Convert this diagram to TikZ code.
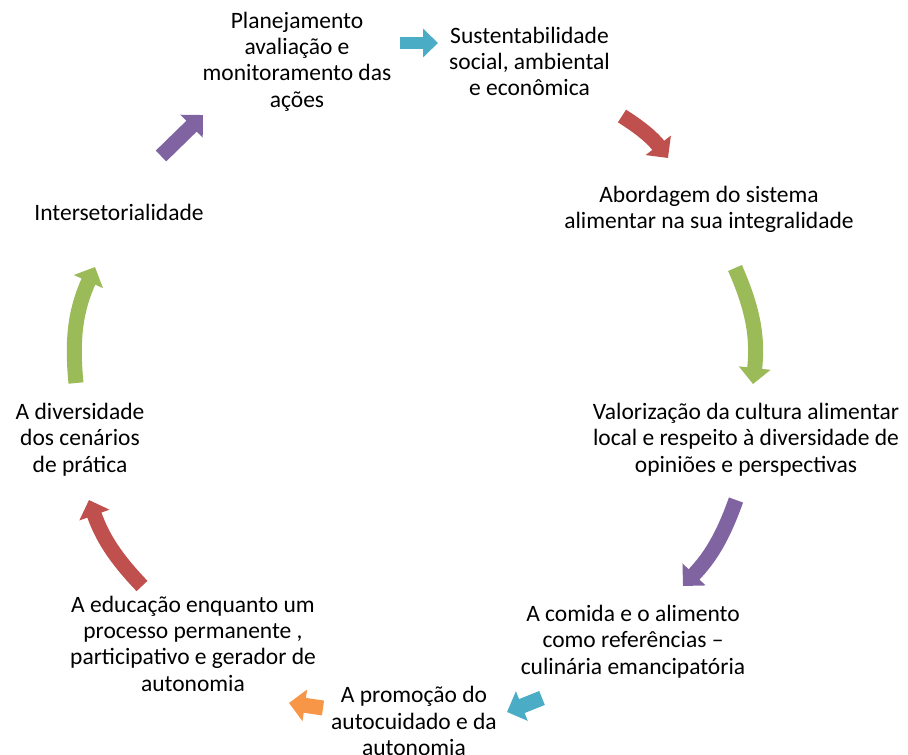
\documentclass[tikz,border=0pt]{standalone}
\usepackage{fontspec}
\setmainfont{Carlito}
\usetikzlibrary{arrows.meta}
\definecolor{acyan}{HTML}{4BACC6}
\definecolor{ared}{HTML}{C0504D}
\definecolor{agreen}{HTML}{9BBB59}
\definecolor{apurple}{HTML}{8064A2}
\definecolor{aorange}{HTML}{F79646}
\begin{document}
\begin{tikzpicture}[x=1pt,y=1pt,
  lbl/.style={align=center, inner sep=0pt, text=black, font=\fontsize{23.5}{26.3}\selectfont},
  barrow/.style={line width=15pt, -{Triangle[width=31pt,length=16pt]}},
  sarrow/.style={line width=12pt, -{Triangle[width=28pt,length=15pt]}},
]
\useasboundingbox[fill=white] (0,0) rectangle (908,-755);

% text nodes
\node[lbl] (plan) at (297,-61.5) {Planejamento\\avaliação e\\monitoramento das\\ações};
\node[lbl] (sust) at (529.5,-61.5) {Sustentabilidade\\social, ambiental\\e econômica};
\node[lbl] (abor) at (709,-209.5) {Abordagem do sistema\\alimentar na sua integralidade};
\node[lbl] (valo) at (746,-439.5) {Valorização da cultura alimentar\\local e respeito à diversidade de\\opiniões e perspectivas};
\node[lbl] (comi) at (633,-641.5) {A comida e o alimento\\como referências –\\culinária emancipatória};
\node[lbl] (prom) at (414,-721) {A promoção do\\autocuidado e da\\autonomia};
\node[lbl] (educ) at (193,-643.5) {A educação enquanto um\\processo permanente ,\\participativo e gerador de\\autonomia};
\node[lbl] (dive) at (80,-439.5) {A diversidade\\dos cenários\\de prática};
\node[lbl] (inte) at (119,-212) {Intersetorialidade};

% arrow end points
\coordinate (a1s) at (400,-43);
\coordinate (a1e) at (438,-43);
\coordinate (a2s) at (622,-116);
\coordinate (a2e) at (668,-158);
\coordinate (a3s) at (735,-268);
\coordinate (a3e) at (753,-384);
\coordinate (a4s) at (736,-500);
\coordinate (a4e) at (683,-586);
\coordinate (a5s) at (542,-698);
\coordinate (a5e) at (507,-712);
\coordinate (a6s) at (323,-708);
\coordinate (a6e) at (289,-703);
\coordinate (a7s) at (142,-586);
\coordinate (a7e) at (89,-500);
\coordinate (a8s) at (76,-383);
\coordinate (a8e) at (95,-267);
\coordinate (a9s) at (161,-156);
\coordinate (a9e) at (203,-115);

% arrows
\draw[sarrow, acyan] (a1s) -- (a1e);
\draw[barrow, ared] (a2s) to[bend left=10] (a2e);
\draw[barrow, agreen] (a3s) to[bend left=15] (a3e);
\draw[barrow, apurple] (a4s) to[bend left=12] (a4e);
\draw[barrow, acyan] (a5s) -- (a5e);
\draw[barrow, aorange] (a6s) -- (a6e);
\draw[barrow, ared] (a7s) to[bend left=12] (a7e);
\draw[barrow, agreen] (a8s) to[bend left=15] (a8e);
\draw[barrow, apurple] (a9s) -- (a9e);
\end{tikzpicture}
\end{document}
